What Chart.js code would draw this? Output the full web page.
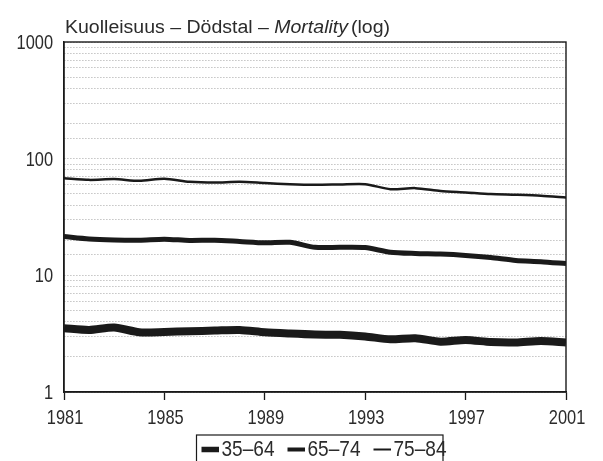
<!DOCTYPE html>
<html><head><meta charset="utf-8">
<script src="https://cdn.jsdelivr.net/npm/chart.js@4/dist/chart.umd.min.js"></script>
<style>html,body{margin:0;padding:0;background:#fff;overflow:hidden}#wrap{width:603px;height:461px;position:relative}</style>
</head><body><div id="wrap"><canvas id="c" width="603" height="461"></canvas></div>
<script>
const years = [1981,1982,1983,1984,1985,1986,1987,1988,1989,1990,1991,1992,1993,1994,1995,1996,1997,1998,1999,2000,2001];
const ages35_64 = [3.52,3.40,3.57,3.25,3.27,3.32,3.36,3.40,3.25,3.17,3.11,3.09,2.99,2.83,2.89,2.70,2.79,2.68,2.66,2.74,2.66];
const ages65_74 = [21.5,20.5,20.1,20.0,20.4,19.9,20.0,19.5,19.0,19.2,17.4,17.4,17.3,15.8,15.4,15.2,14.8,14.2,13.4,13.1,12.6];
const ages75_84 = [68.1,65.8,66.8,64.6,67.3,63.4,62.4,63.4,61.8,60.4,59.7,60.1,60.4,54.8,55.9,52.8,51.3,49.7,49.0,48.1,46.5];
const seriesLabels = ['35–64','65–74','75–84'];
const xTickLabels = [1981,1985,1989,1993,1997,2001];
const yTickLabels = [1,10,100,1000];
const titleParts = ['Kuolleisuus – Dödstal – ','Mortality','(log)'];

const FONT = "'Liberation Sans',Arial,sans-serif";
const INK = '#1a1a1a';
const TXT = '#2b2b2b';
const widths = [8,5,2.5];
const legendThick = [5.5,4,2];
const seriesData = [ages35_64, ages65_74, ages75_84];

function narrowText(ctx, text, x, y, sx, align){
  const w = ctx.measureText(text).width * sx;
  let x0 = x;
  if (align === 'right') x0 = x - w;
  else if (align === 'center') x0 = x - w/2;
  ctx.save();
  ctx.translate(x0, y);
  ctx.scale(sx, 1);
  ctx.textAlign = 'left';
  ctx.fillText(text, 0, 0);
  ctx.restore();
  return w;
}

const decor = {
  id:'decor',
  afterDraw(chart){
    const ctx = chart.ctx, a = chart.chartArea;
    ctx.save();
    ctx.strokeStyle = INK; ctx.lineWidth = 1.4;
    ctx.strokeRect(a.left, a.top, a.right-a.left, a.bottom-a.top);
    ctx.textBaseline = 'alphabetic';
    ctx.fillStyle = TXT;

    // tick labels (positions from the library's scales)
    ctx.font = '21px ' + FONT;
    const tsx = 36.5 / ctx.measureText('1000').width;
    const ys = chart.scales.y, xs = chart.scales.x;
    yTickLabels.forEach(v=>{
      narrowText(ctx, String(v), a.left - 11, ys.getPixelForValue(v) + 7, tsx, 'right');
    });
    xTickLabels.forEach(v=>{
      narrowText(ctx, String(v), xs.getPixelForValue(v) + 1, 424, tsx, 'center');
    });

    // title
    ctx.font = '18px ' + FONT;
    const w0 = ctx.measureText(titleParts[0]).width;
    const w2 = ctx.measureText(titleParts[2]).width;
    ctx.font = 'italic 18px ' + FONT;
    const w1 = ctx.measureText(titleParts[1]).width;
    const gap = 3;
    const hsx = (325 - gap) / (w0 + w1 + w2);
    let x = a.left + 1; const ty = 32.5;
    ctx.font = '18px ' + FONT;
    x += narrowText(ctx, titleParts[0], x, ty, hsx, 'left');
    ctx.font = 'italic 18px ' + FONT;
    x += narrowText(ctx, titleParts[1], x, ty, hsx, 'left') + gap;
    ctx.font = '18px ' + FONT;
    narrowText(ctx, titleParts[2], x, ty, hsx, 'left');

    // legend
    ctx.strokeStyle = INK; ctx.lineWidth = 1.2;
    ctx.strokeRect(196.5, 435, 246.5, 40);
    ctx.font = '22px ' + FONT;
    const lsx = 53 / ctx.measureText(seriesLabels[0]).width;
    let lx = 201.5; const cy = 449.5;
    chart.data.datasets.forEach((ds,i)=>{
      const t = legendThick[i];
      ctx.fillStyle = INK;
      ctx.fillRect(lx, cy - t/2, 17.5, t);
      lx += 20;
      ctx.fillStyle = TXT;
      lx += narrowText(ctx, ds.label, lx, 455.7, lsx, 'left') + 13;
    });
    ctx.restore();
  }
};

new Chart(document.getElementById('c'), {
  type:'line',
  data:{
    datasets: seriesLabels.map((lab,i)=>({
      label: lab,
      data: years.map((yr,j)=>({x:yr, y:seriesData[i][j]})),
      borderColor: INK,
      backgroundColor: INK,
      borderWidth: widths[i],
      pointRadius: 0,
      tension: 0.25,
      borderJoinStyle:'round',
      borderCapStyle:'butt',
      fill:false
    }))
  },
  options:{
    responsive:false,
    animation:false,
    devicePixelRatio:1,
    layout:{padding:{left:0,right:37,top:42,bottom:39}},
    plugins:{legend:{display:false},title:{display:false},tooltip:{enabled:false}},
    scales:{
      x:{
        type:'linear', min:1981, max:2001,
        afterBuildTicks(s){ s.ticks = xTickLabels.map(v=>({value:v})); },
        afterFit(s){ s.height = 30; },
        ticks:{display:false, autoSkip:false},
        grid:{drawOnChartArea:false, drawTicks:true, tickLength:8, tickColor:INK, tickWidth:1.3},
        border:{display:true, color:INK, width:1.4}
      },
      y:{
        type:'logarithmic', min:1, max:1000,
        afterFit(s){ s.width = 64; },
        ticks:{display:false, autoSkip:false},
        grid:{drawTicks:false, color:'#a6a6a6', lineWidth:1},
        border:{display:true, color:INK, width:1.4, dash:[1,2]}
      }
    }
  },
  plugins:[decor]
});
</script></body></html>
